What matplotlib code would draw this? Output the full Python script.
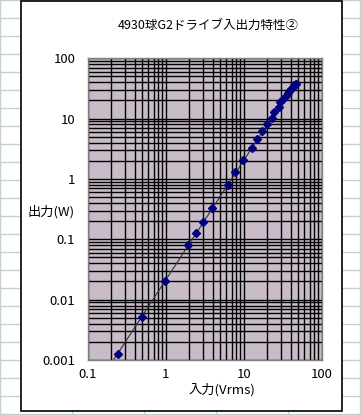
import numpy as np
import matplotlib.pyplot as plt
from matplotlib.patches import Rectangle
from matplotlib.ticker import LogLocator, NullFormatter, FixedLocator

plt.rcParams['font.family'] = ['Noto Sans CJK JP', 'DejaVu Sans']

# input voltage (Vrms) and output power (W)
vin = [0.247, 0.495, 0.99, 1.95, 2.44, 3.03, 3.89, 6.2, 7.7, 9.9, 12.7, 14.7,
       17.3, 19.7, 22.9, 24.7, 28.1, 29.2, 32.2, 34.5, 36.6, 38.4, 40.4, 42.5,
       44.5, 46.9]
pout = [0.00125, 0.00513, 0.0200, 0.079, 0.125, 0.195, 0.325, 0.81, 1.29,
        2.03, 3.21, 4.59, 6.23, 8.04, 10.1, 13.0, 15.4, 18.6, 21.1, 24.0, 26.3,
        28.7, 31.0, 33.0, 35.7, 37.9]

title = '4930球G2ドライブ入出力特性②'
xlabel = '入力(Vrms)'
ylabel = '出力(W)'
xticks = [0.1, 1, 10, 100]
xticklabels = ['0.1', '1', '10', '100']
yticks = [0.001, 0.01, 0.1, 1, 10, 100]
yticklabels = ['0.001', '0.01', '0.1', '1', '10', '100']

W, H = 361, 415
fig = plt.figure(figsize=(W / 100, H / 100), dpi=100)

# spreadsheet behind the chart
bg = fig.add_axes([0, 0, 1, 1])
bg.set_xlim(0, W)
bg.set_ylim(H, 0)
bg.axis('off')
for y in range(0, H + 1, 18):
    bg.plot([0, W], [y, y], color='#c4d4c4', lw=1)
for x in [0, 72, 144, 216, 288, 360]:
    bg.plot([x, x], [0, H], color='#c4d4c4', lw=1)
bg.add_patch(Rectangle((20.5, 1.5), 321, 409.5, facecolor='white',
                       edgecolor='black', lw=1.2, zorder=3))
bg.text(208, 25, title, ha='center', va='center', fontsize=9, zorder=4)
bg.text(51, 212, ylabel, ha='center', va='center', fontsize=9.5, zorder=4)
bg.text(222, 390, xlabel, ha='center', va='center', fontsize=9.5, zorder=4)

# plot area
ax = fig.add_axes([87.7 / W, 1 - 360 / H, 234 / W, 301.7 / H])
ax.set_xscale('log')
ax.set_yscale('log')
ax.set_xlim(0.1, 100)
ax.set_ylim(0.001, 100)
ax.set_facecolor('#c8bcc8')
for s in ax.spines.values():
    s.set_color('#808080')
    s.set_linewidth(1)

ax.xaxis.set_major_locator(FixedLocator(xticks))
ax.set_xticklabels(xticklabels)
ax.yaxis.set_major_locator(FixedLocator(yticks))
ax.set_yticklabels(yticklabels)
ax.xaxis.set_minor_locator(LogLocator(base=10, subs=np.arange(2, 10), numticks=20))
ax.yaxis.set_minor_locator(LogLocator(base=10, subs=np.arange(2, 10), numticks=20))
ax.xaxis.set_minor_formatter(NullFormatter())
ax.yaxis.set_minor_formatter(NullFormatter())
ax.tick_params(which='both', length=0, labelsize=9.5)
ax.tick_params(axis='y', pad=9)
ax.tick_params(axis='x', pad=6)
ax.grid(which='both', color='black', lw=1.0)
ax.set_axisbelow(True)

# power-law trendline
b, a = np.polyfit(np.log10(vin), np.log10(pout), 1)
xs = np.array([min(vin) * 0.88, max(vin)])
ax.plot(xs, 10 ** a * xs ** b, color='#333333', lw=0.8, clip_on=False, zorder=3)

ax.plot(vin, pout, 'D', color='#000080', markersize=4, zorder=4, clip_on=False)

fig.savefig('out.png', dpi=100)
